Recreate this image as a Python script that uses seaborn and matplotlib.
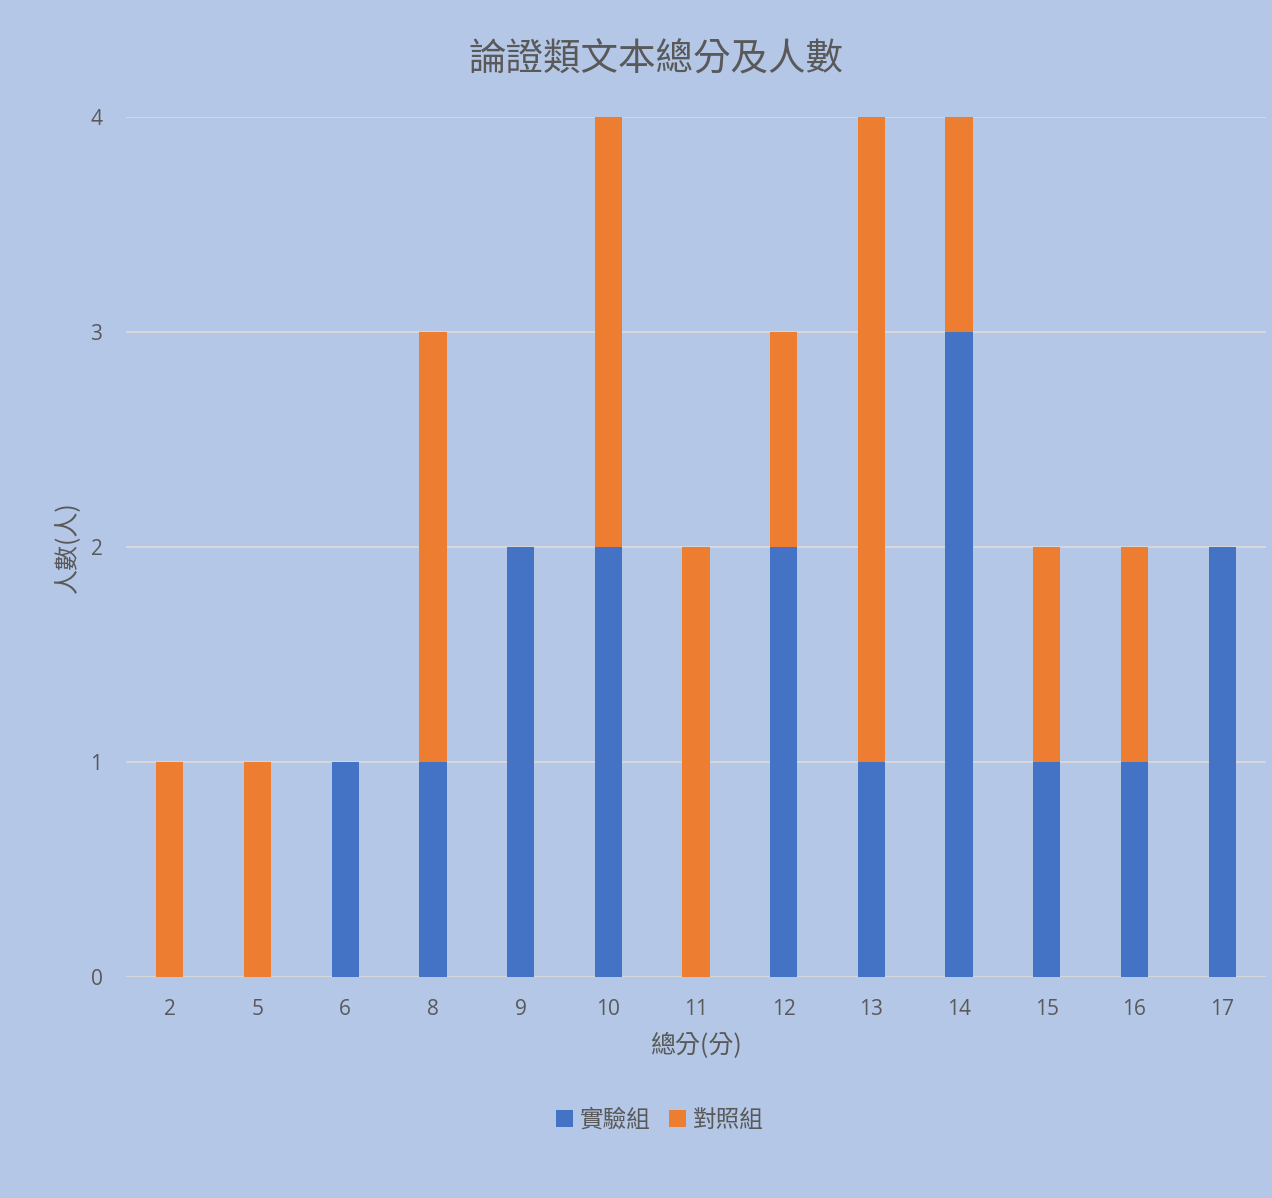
import matplotlib
matplotlib.use("Agg")
import matplotlib.pyplot as plt
import seaborn as sns
import pandas as pd
from matplotlib.patches import Patch

scores = ["2", "5", "6", "8", "9", "10", "11", "12", "13", "14", "15", "16", "17"]
experimental = [0, 0, 1, 1, 2, 2, 0, 2, 1, 3, 1, 1, 2]
control = [1, 1, 0, 2, 0, 2, 2, 1, 3, 1, 1, 1, 0]
y_ticks = [0, 1, 2, 3, 4]

title = "論證類文本總分及人數"
x_label = "總分(分)"
y_label = "人數(人)"
series_names = ["實驗組", "對照組"]

BG = "#B4C7E7"
BLUE = "#4472C4"
ORANGE = "#ED7D31"
TEXT = "#595959"
GRID = "#D9D9D9"

sns.set_theme(style="white")
plt.rcParams["font.family"] = ["Noto Sans CJK TC", "DejaVu Sans"]

df = pd.DataFrame({
    "score": scores,
    "exp": experimental,
    "ctl": control,
})
df["total"] = df["exp"] + df["ctl"]

fig = plt.figure(figsize=(12.72, 11.98), dpi=100, facecolor=BG)
ax = fig.add_axes([126 / 1272, 1 - 977 / 1198, (1266 - 126) / 1272, (977 - 117) / 1198])
ax.set_facecolor(BG)

# stacked bars: total height in orange, experimental group drawn over it
sns.barplot(data=df, x="score", y="total", color=ORANGE, saturation=1,
            width=0.31, ax=ax, zorder=3, linewidth=0, edgecolor="none")
sns.barplot(data=df, x="score", y="exp", color=BLUE, saturation=1,
            width=0.31, ax=ax, zorder=4, linewidth=0, edgecolor="none")

ax.set_xlim(-0.5, len(scores) - 0.5)
ax.set_ylim(0, 4)
ax.set_yticks(y_ticks)
ax.set_yticklabels([str(t) for t in y_ticks])
ax.grid(axis="y", color=GRID, linewidth=1.3, zorder=0)
ax.grid(axis="x", visible=False)
for s in ax.spines.values():
    s.set_visible(False)

ax.tick_params(axis="both", length=0, labelsize=15, colors=TEXT)
ax.tick_params(axis="y", pad=17)
ax.tick_params(axis="x", pad=16)
for lbl in ax.get_xticklabels() + ax.get_yticklabels():
    lbl.set_fontfamily(["Open Sans", "DejaVu Sans"])

ax.set_xlabel(x_label, fontsize=18, color=TEXT, labelpad=9)
ax.set_ylabel(y_label, fontsize=18, color=TEXT, labelpad=7)

fig.text(656 / 1272, 1 - 60 / 1198, title, ha="center", va="center",
         fontsize=27, color=TEXT, fontweight="light")

handles = [Patch(facecolor=BLUE, edgecolor="none"),
           Patch(facecolor=ORANGE, edgecolor="none")]
fig.legend(handles, series_names, loc="center",
           bbox_to_anchor=(660 / 1272, 1 - 1120 / 1198), ncol=2,
           frameon=False, fontsize=17, labelcolor=TEXT,
           handlelength=0.7, handleheight=0.7, handletextpad=0.3,
           columnspacing=0.8)

fig.savefig("out.png", dpi=100, facecolor=BG)
